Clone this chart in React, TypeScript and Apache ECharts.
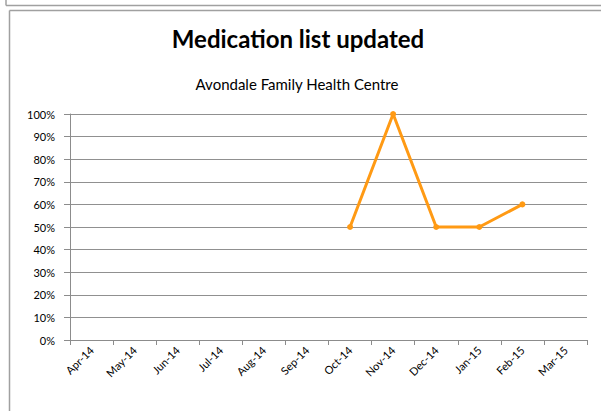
import React, { useEffect, useRef } from "react";
import * as echarts from "echarts";

const categories = ["Apr-14", "May-14", "Jun-14", "Jul-14", "Aug-14", "Sep-14", "Oct-14", "Nov-14", "Dec-14", "Jan-15", "Feb-15", "Mar-15"];
const values: (number | null)[] = [null, null, null, null, null, null, 0.5, 1.0, 0.5, 0.5, 0.6, null];
const titleText = "Medication list updated";
const subtitleText = "Avondale Family Health Centre";

export default function App() {
  const ref = useRef<HTMLDivElement>(null);
  useEffect(() => {
    const chart = echarts.init(ref.current!, null, { renderer: "svg" });
    const font = "Lato, 'Open Sans', sans-serif";
    chart.setOption({
      animation: false,
      backgroundColor: "#ffffff",
      textStyle: { fontFamily: font },
      graphic: [
        { type: "line", shape: { x1: 6, y1: 0, x2: 6, y2: 5.5 }, style: { stroke: "#a0a0a0", lineWidth: 1.5 } },
        { type: "line", shape: { x1: 6, y1: 5.5, x2: 601, y2: 5.5 }, style: { stroke: "#a0a0a0", lineWidth: 1.5 } },
        { type: "line", shape: { x1: 9.5, y1: 10.5, x2: 9.5, y2: 411 }, style: { stroke: "#a0a0a0", lineWidth: 1.5 } },
        { type: "line", shape: { x1: 9.5, y1: 10.5, x2: 601, y2: 10.5 }, style: { stroke: "#a0a0a0", lineWidth: 1.5 } },
        {
          type: "text", x: 298, y: 38,
          style: { text: titleText, font: `bold 24px ${font}`, fill: "#000", align: "center", verticalAlign: "middle" },
        },
        {
          type: "text", x: 297, y: 84,
          style: { text: subtitleText, font: `15px ${font}`, fill: "#000", align: "center", verticalAlign: "middle" },
        },
      ],
      grid: { left: 70, right: 14, top: 114, bottom: 71, containLabel: false },
      xAxis: {
        type: "category",
        data: categories,
        boundaryGap: true,
        axisLine: { lineStyle: { color: "#8c8c8c", width: 1 } },
        axisTick: { show: true, length: 5, lineStyle: { color: "#8c8c8c" } },
        axisLabel: { rotate: 45, fontSize: 11, color: "#000", margin: 8, fontFamily: font, interval: 0 },
        splitLine: { show: false },
      },
      yAxis: {
        type: "value",
        min: 0,
        max: 1,
        interval: 0.1,
        axisLine: { show: true, lineStyle: { color: "#8c8c8c", width: 1 } },
        axisTick: { show: true, inside: false, length: 6, lineStyle: { color: "#8c8c8c" } },
        axisLabel: {
          fontSize: 11, color: "#000", margin: 15, fontFamily: font,
          formatter: (v: number) => `${Math.round(v * 100)}%`,
        },
        splitLine: { show: true, lineStyle: { color: "#909090", width: 1.2 } },
      },
      series: [
        {
          type: "line",
          data: values,
          connectNulls: false,
          symbol: "circle",
          symbolSize: 6,
          lineStyle: { color: "#FF9A14", width: 3 },
          itemStyle: { color: "#FF9A14" },
        },
      ],
    });
    return () => chart.dispose();
  }, []);
  return <div ref={ref} style={{ position: "fixed", left: 0, top: 0, width: 601, height: 411 }} />;
}
